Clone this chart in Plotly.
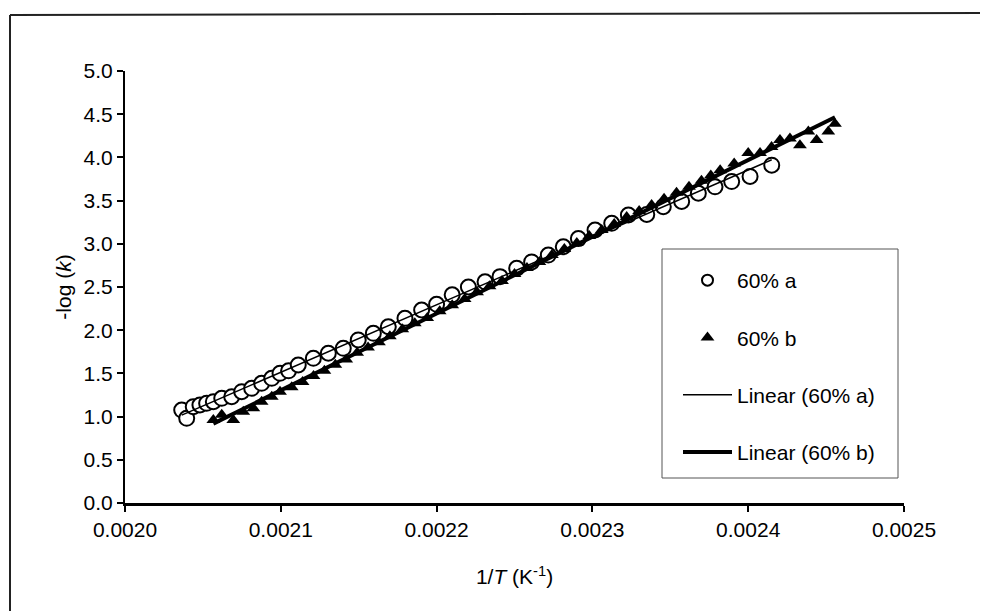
import numpy as np
import plotly.graph_objects as go

# ---- data ----
a_x = [0.0020364, 0.0020396, 0.0020438, 0.0020481, 0.0020524, 0.0020567, 0.0020621,
       0.0020685, 0.0020749, 0.0020813, 0.0020877, 0.0020942, 0.0020995, 0.0021050,
       0.0021112, 0.0021209, 0.0021305, 0.0021401, 0.0021497, 0.0021594, 0.0021690,
       0.0021797, 0.0021904, 0.0022000, 0.0022100, 0.0022204, 0.0022311, 0.0022407,
       0.0022514, 0.0022610, 0.0022717, 0.0022813, 0.0022910, 0.0023017, 0.0023124,
       0.0023231, 0.0023349, 0.0023455, 0.0023573, 0.0023680, 0.0023787, 0.0023894,
       0.0024012, 0.0024151]
a_y = [1.076, 0.980, 1.115, 1.134, 1.154, 1.173, 1.212,
       1.230, 1.288, 1.327, 1.385, 1.443, 1.501, 1.530,
       1.597, 1.675, 1.733, 1.790, 1.887, 1.964, 2.040,
       2.138, 2.234, 2.300, 2.410, 2.500, 2.560, 2.620,
       2.716, 2.790, 2.870, 2.966, 3.060, 3.160, 3.237,
       3.333, 3.340, 3.430, 3.490, 3.585, 3.660, 3.720,
       3.780, 3.910]

b_x = [0.0020567, 0.0020621, 0.0020695, 0.0020759, 0.0020824, 0.0020877, 0.0020942,
       0.0020995, 0.0021070, 0.0021140, 0.0021210, 0.0021280, 0.0021350, 0.0021420,
       0.0021490, 0.0021560, 0.0021630, 0.0021700, 0.0021780, 0.0021860, 0.0021940,
       0.0022020, 0.0022100, 0.0022180, 0.0022260, 0.0022340, 0.0022420, 0.0022500,
       0.0022580, 0.0022660, 0.0022740, 0.0022820, 0.0022900, 0.0022980, 0.0023060,
       0.0023140, 0.0023220, 0.0023300, 0.0023380, 0.0023460, 0.0023540, 0.0023620,
       0.0023700, 0.0023760, 0.0023820, 0.0023910, 0.0024000, 0.0024076, 0.0024150,
       0.0024204, 0.0024268, 0.0024332, 0.0024386, 0.0024439, 0.0024514, 0.0024557]
b_y = [0.960, 1.020, 0.960, 1.057, 1.096, 1.173, 1.230,
       1.288, 1.340, 1.400, 1.470, 1.530, 1.600, 1.660,
       1.740, 1.800, 1.860, 1.930, 2.010, 2.080, 2.140,
       2.220, 2.290, 2.360, 2.440, 2.510, 2.570, 2.650,
       2.720, 2.790, 2.870, 2.940, 3.010, 3.090, 3.160,
       3.230, 3.310, 3.380, 3.450, 3.520, 3.590, 3.660,
       3.730, 3.790, 3.850, 3.930, 4.050, 4.050, 4.120,
       4.200, 4.220, 4.140, 4.300, 4.200, 4.300, 4.390]

x_ticks = [0.0020, 0.0021, 0.0022, 0.0023, 0.0024, 0.0025]
y_ticks = [0.0, 0.5, 1.0, 1.5, 2.0, 2.5, 3.0, 3.5, 4.0, 4.5, 5.0]

series_names = ["60% a", "60% b", "Linear (60% a)", "Linear (60% b)"]

FONT = "Arial, Liberation Sans, Helvetica, sans-serif"

# linear trendlines (least squares, like the spreadsheet "Linear" trendline)
ka, ca = np.polyfit(a_x, a_y, 1)
kb, cb = np.polyfit(b_x, b_y, 1)
la_x = [min(a_x), max(a_x)]
lb_x = [min(b_x), max(b_x)]
la_y = [ka * v + ca for v in la_x]
lb_y = [kb * v + cb for v in lb_x]

fig = go.Figure()
# plotted marks
fig.add_trace(go.Scatter(x=a_x, y=a_y, mode="markers", showlegend=False,
                         marker=dict(symbol="circle", size=15, color="white",
                                     line=dict(color="black", width=2))))
fig.add_trace(go.Scatter(x=b_x, y=b_y, mode="markers", showlegend=False,
                         marker=dict(symbol="triangle-up", size=12, color="black",
                                     line=dict(color="black", width=0))))
fig.add_trace(go.Scatter(x=la_x, y=la_y, mode="lines", showlegend=False,
                         line=dict(color="black", width=1.5)))
fig.add_trace(go.Scatter(x=lb_x, y=lb_y, mode="lines", showlegend=False,
                         line=dict(color="black", width=4)))
# legend entries (same styles, legend-sized symbols)
fig.add_trace(go.Scatter(x=[None], y=[None], mode="markers", name=series_names[0], legendgroup="g1",
                         marker=dict(symbol="circle", size=11, color="white",
                                     line=dict(color="black", width=2))))
fig.add_trace(go.Scatter(x=[None], y=[None], mode="markers", name=series_names[1], legendgroup="g2",
                         marker=dict(symbol="triangle-up", size=12, color="black",
                                     line=dict(color="black", width=0))))
fig.add_trace(go.Scatter(x=[None], y=[None], mode="lines", name=series_names[2], legendgroup="g3",
                         line=dict(color="black", width=1.5)))
fig.add_trace(go.Scatter(x=[None], y=[None], mode="lines", name=series_names[3], legendgroup="g4",
                         line=dict(color="black", width=4)))

OFF = 8  # page body margin of the html page
W, H = 988, 611
L, T = 125 - OFF, 71 - OFF
pw, ph = 779, 432
R = W - L - pw
B = H - T - ph

def px(xp):
    return (xp - OFF - L) / pw

def py(yp):
    return (T + ph - (yp - OFF)) / ph

fig.update_layout(
    width=W, height=H,
    margin=dict(l=L, r=R, t=T, b=B, pad=0),
    paper_bgcolor="white", plot_bgcolor="white",
    font=dict(family=FONT, size=21, color="black"),
    showlegend=True,
    legend=dict(x=px(678), y=py(260), xanchor="left", yanchor="top",
                bgcolor="rgba(0,0,0,0)", borderwidth=0,
                font=dict(family=FONT, size=21, color="black"),
                itemwidth=49, itemsizing="trace", tracegroupgap=27,
                traceorder="grouped"),
    xaxis=dict(range=[0.0020, 0.0025], tickvals=x_ticks, tickformat=".4f",
               showgrid=False, zeroline=False, showline=True, linecolor="black",
               linewidth=3, ticks="outside", ticklen=6, tickwidth=2, tickcolor="black",
               tickfont=dict(size=21),
               title=dict(text="1/<i>T</i> (K<sup>-1</sup>)", font=dict(size=21), standoff=30)),
    yaxis=dict(range=[0, 5], tickvals=y_ticks, tickformat=".1f",
               showgrid=False, zeroline=False, showline=True, linecolor="black",
               linewidth=2, ticks="outside", ticklen=6, tickwidth=2, tickcolor="black",
               tickfont=dict(size=21),
               title=dict(text="-log (<i>k</i>)", font=dict(size=21), standoff=6)),
    shapes=[
        # legend frame
        dict(type="rect", xref="paper", yref="paper",
             x0=px(662), x1=px(898), y0=py(478), y1=py(249),
             line=dict(color="#555555", width=1), fillcolor="rgba(0,0,0,0)", layer="below"),
        # outer chart frame (top and left edges visible)
        dict(type="line", xref="paper", yref="paper",
             x0=px(10), x1=px(1000), y0=py(15), y1=py(13),
             line=dict(color="#222222", width=2)),
        dict(type="line", xref="paper", yref="paper",
             x0=px(10), x1=px(10), y0=py(15), y1=py(625),
             line=dict(color="#222222", width=2)),
    ],
)

fig.write_html("out.html")
